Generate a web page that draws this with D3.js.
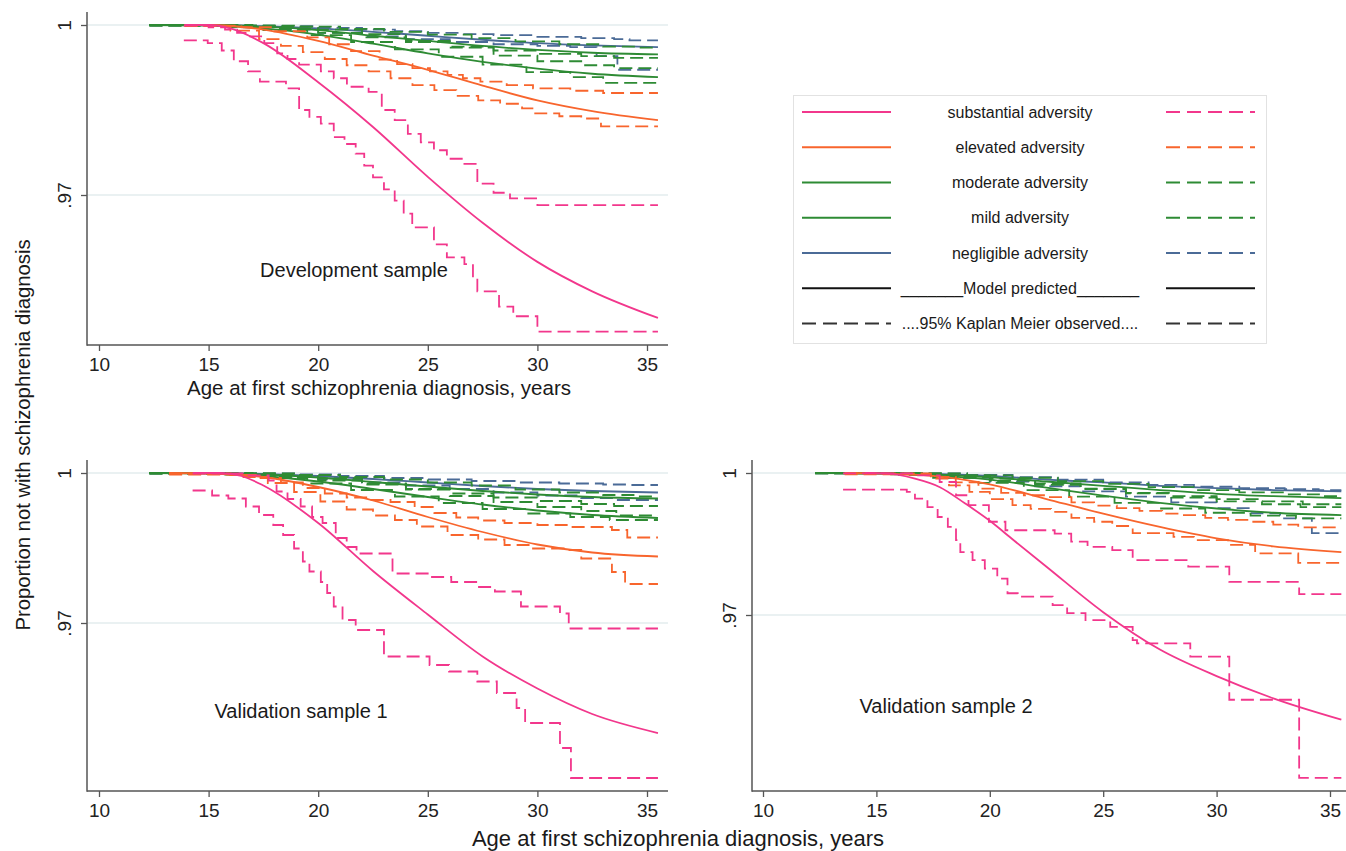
<!DOCTYPE html>
<html>
<head>
<meta charset="utf-8">
<script src="https://cdn.jsdelivr.net/npm/d3@7"></script>
<style>
html,body{margin:0;padding:0;background:#fff;}
svg{display:block;font-family:"Liberation Sans",Arial,Helvetica,sans-serif;}
</style>
</head>
<body>
<svg id="chart" width="1346" height="851"></svg>
<script>
// ---------------- DATA ----------------
const xTicks = [10, 15, 20, 25, 30, 35];
const yTicks = [0.97, 1];
const yTickLabels = [".97", "1"];
const endAge = 35.5;
const groupNames = ["substantial adversity", "elevated adversity", "moderate adversity", "mild adversity", "negligible adversity"];
const keyNames = ["_______Model predicted_______", "....95% Kaplan Meier observed...."];
const panelLabels = ["Development sample", "Validation sample 1", "Validation sample 2"];
const xTitle = "Age at first schizophrenia diagnosis, years";
const yTitle = "Proportion not with schizophrenia diagnosis";

// Development sample: model predicted curves [age, proportion]
const devSubModel = [[13.9,1],[15,1],[16,0.9994],[17.5,0.9968],[20,0.9899],[22.5,0.9820],[25,0.9732],[27.5,0.9651],[30,0.9582],[32.5,0.9530],[35.5,0.9483]];
const devEleModel = [[13.9,1],[15,1],[17.5,0.9992],[20,0.9972],[22.5,0.9946],[25,0.9921],[27.5,0.9893],[30,0.9867],[32.5,0.9848],[35.5,0.9832]];
const devModModel = [[12.3,1],[15,0.9999],[17.5,0.9994],[20,0.9983],[22.5,0.9967],[25,0.9950],[27.5,0.9935],[30,0.9923],[32.5,0.9914],[35.5,0.9908]];
const devMildModel = [[12.3,1],[15,1],[17.5,0.9997],[20,0.9991],[22.5,0.9981],[25,0.9972],[27.5,0.9963],[30,0.9956],[32.5,0.9951],[35.5,0.9948]];
const devNegModel = [[12.3,1],[15,1],[17.5,0.9998],[20,0.9994],[22.5,0.9988],[25,0.9981],[27.5,0.9974],[30,0.9968],[32.5,0.9964],[35.5,0.9961]];
// Development sample: Kaplan-Meier 95% bounds (step points)
const devSubHi = [[13.87,0.9999],[15.0,0.9996],[15.75,0.9992],[16.3,0.9986],[16.75,0.9980],[17.54,0.9968],[18.13,0.9950],[18.6,0.9940],[19.13,0.9930],[20.12,0.9918],[20.71,0.9906],[21.31,0.9891],[22.30,0.9882],[22.90,0.9850],[23.49,0.9832],[24.09,0.9808],[24.68,0.9793],[25.28,0.9779],[25.87,0.9764],[26.67,0.9755],[27.26,0.9720],[28.0,0.9704],[28.75,0.9694],[30.0,0.9682]];
const devSubLo = [[13.87,0.9973],[14.96,0.9968],[15.6,0.9955],[16.15,0.9936],[16.8,0.9918],[17.34,0.9900],[18.53,0.9888],[19.13,0.9850],[19.6,0.9838],[20.12,0.9826],[20.71,0.9802],[21.2,0.9790],[21.71,0.9773],[22.1,0.9752],[22.50,0.9731],[23.0,0.9710],[23.49,0.9690],[23.9,0.9667],[24.29,0.9643],[25.28,0.9613],[25.87,0.9590],[26.67,0.9578],[27.06,0.9554],[27.26,0.9530],[28.25,0.9503],[28.9,0.9486],[30.0,0.9459]];
const devEleHi = [[13.9,0.9999],[16.5,0.9996],[18,0.9989],[19.5,0.9978],[20.5,0.9966],[21.5,0.9954],[22.8,0.9939],[23.6,0.9931],[24.3,0.9924],[25.1,0.9918],[25.9,0.9912],[26.6,0.9906],[27.4,0.9900],[28.6,0.9894],[29.8,0.9888],[31.5,0.9884],[33.0,0.9880]];
const devEleLo = [[13.9,0.9998],[16,0.9990],[17.3,0.9975],[18.3,0.9963],[19.3,0.9952],[20.3,0.9940],[21.3,0.9929],[22.3,0.9918],[23.3,0.9906],[24.3,0.9894],[25.3,0.9885],[26.3,0.9875],[27.3,0.9867],[28.3,0.9861],[29.3,0.9853],[29.9,0.9844],[31.0,0.9839],[32.0,0.9835],[32.9,0.9821]];
const devModHi = [[12.3,1],[16,0.9999],[18,0.9997],[20,0.9992],[22,0.9984],[24,0.9972],[26,0.9960],[28,0.9946],[30,0.9936],[32,0.9929],[33.5,0.9924]];
const devModLo = [[12.3,0.9999],[15.5,0.9997],[17.5,0.9991],[19.5,0.9982],[21.5,0.9970],[23.5,0.9957],[25.5,0.9944],[27.5,0.9930],[29.5,0.9917],[31.5,0.9908],[33,0.9898]];
const devMildHi = [[12.3,1],[17,0.9999],[19,0.9997],[21,0.9993],[23,0.9988],[25,0.9983],[27,0.9977],[29,0.9971],[31,0.9966],[33,0.9962],[34.5,0.9960]];
const devMildLo = [[12.3,0.9999],[16,0.9997],[18,0.9993],[20,0.9986],[22,0.9978],[24,0.9970],[26,0.9962],[28,0.9955],[30,0.9949],[32,0.9945],[33.5,0.9942]];
const devNegHi = [[12.3,1],[16,0.9999],[18,0.9998],[20,0.9995],[22,0.9992],[23.5,0.9989],[25,0.9986],[26.5,0.9984],[28,0.9982],[30,0.9979],[32,0.9977],[33.5,0.9975],[34.2,0.9973]];
const devNegLo = [[12.3,0.9999],[16,0.9996],[18,0.9992],[20,0.9986],[22,0.9980],[24,0.9975],[26,0.9970],[28,0.9966],[30,0.9963],[31.5,0.9961],[32.7,0.9945],[33.65,0.9921]];

// Validation sample 1
const v1SubModel = [[14.3,1],[15.5,1],[16.5,0.9994],[17.5,0.9975],[20,0.9900],[22.5,0.9804],[25,0.9717],[27.5,0.9633],[30,0.9569],[32.5,0.9518],[35.5,0.9480]];
const v1EleModel = [[13.2,1],[15,0.9999],[17.5,0.9992],[20,0.9972],[22.5,0.9945],[25,0.9912],[27.5,0.9882],[30,0.9857],[32.5,0.9841],[35.5,0.9833]];
const v1ModModel = [[12.3,1],[15,0.9999],[17.5,0.9994],[20,0.9983],[22.5,0.9968],[25,0.9952],[27.5,0.9937],[30,0.9925],[32.5,0.9916],[35.5,0.9910]];
const v1MildModel = [[12.3,1],[15,1],[17.5,0.9997],[20,0.9991],[22.5,0.9982],[25,0.9973],[27.5,0.9964],[30,0.9957],[32.5,0.9952],[35.5,0.9949]];
const v1NegModel = [[12.3,1],[15,1],[17.5,0.9998],[20,0.9994],[22.5,0.9988],[25,0.9981],[27.5,0.9974],[30,0.9968],[32.5,0.9964],[35.5,0.9961]];
const v1SubHi = [[14.27,0.9999],[16.55,0.9995],[17.74,0.9985],[18.1,0.9963],[18.6,0.9948],[19.2,0.9933],[19.72,0.9912],[20.2,0.9900],[20.8,0.9870],[21.3,0.9852],[21.75,0.9839],[23.39,0.9799],[25.08,0.9792],[26.07,0.9782],[27.26,0.9772],[28.06,0.9763],[29.25,0.9733],[31.03,0.9719],[31.43,0.9689]];
const v1SubLo = [[14.27,0.9965],[15.16,0.9955],[15.9,0.9949],[16.7,0.9933],[17.3,0.9916],[17.95,0.9896],[18.4,0.9876],[18.9,0.9849],[19.3,0.9823],[19.6,0.9803],[20.12,0.9782],[20.41,0.9760],[20.71,0.9733],[21.11,0.9706],[21.71,0.9686],[23.0,0.9633],[25.08,0.9616],[25.97,0.9603],[27.26,0.9583],[28.15,0.9560],[29.05,0.9530],[29.44,0.9500],[31.03,0.9450],[31.53,0.9390]];
const v1EleHi = [[13.2,0.9999],[16,0.9996],[17.3,0.9990],[18.3,0.9981],[19.3,0.9970],[20.3,0.9959],[21.3,0.9951],[22.3,0.9946],[23.3,0.9942],[24.4,0.9932],[25.3,0.9920],[26.3,0.9911],[27.3,0.9905],[28.5,0.9900],[30,0.9896],[31.5,0.9892],[33.4,0.9886],[34.1,0.9871]];
const v1EleLo = [[13.2,0.9997],[16.5,0.9992],[17.7,0.9980],[18.9,0.9962],[20.1,0.9943],[21.3,0.9927],[22.5,0.9915],[23.5,0.9906],[24.5,0.9893],[25.9,0.9876],[27.3,0.9867],[28.5,0.9856],[29.6,0.9849],[31.2,0.9846],[32.0,0.9829],[33.4,0.9802],[34.0,0.9778]];
const v1ModHi = [[12.3,1],[16,0.9999],[18,0.9996],[20,0.9989],[22,0.9979],[24,0.9967],[26,0.9954],[28,0.9942],[30,0.9932],[32,0.9924],[33.6,0.9915]];
const v1ModLo = [[12.3,0.9999],[15.5,0.9997],[17.5,0.9990],[19.5,0.9979],[21.5,0.9966],[23.5,0.9953],[25.5,0.9940],[27.5,0.9928],[29.5,0.9919],[31.5,0.9912],[33.3,0.9906]];
const v1MildHi = [[12.3,1],[17,0.9999],[19,0.9996],[21,0.9992],[23,0.9987],[25,0.9981],[27,0.9975],[29,0.9967],[31,0.9961],[33,0.9956],[34.5,0.9953]];
const v1MildLo = [[12.3,0.9999],[16,0.9997],[18,0.9992],[20,0.9985],[22,0.9977],[24,0.9968],[26,0.9959],[28,0.9951],[30,0.9944],[32,0.9938],[33.5,0.9934]];
const v1NegHi = [[12.3,1],[17,0.9999],[19,0.9997],[21,0.9994],[23,0.9990],[25,0.9987],[27,0.9984],[29,0.9981],[31,0.9979],[33,0.9977],[34.2,0.9976]];
const v1NegLo = [[12.3,0.9999],[16,0.9997],[18,0.9993],[20,0.9987],[22,0.9981],[24,0.9975],[26,0.9968],[28,0.9961],[30,0.9955],[32,0.9950],[33.5,0.9946]];

// Validation sample 2
const v2SubModel = [[14.5,1],[15.4,0.9999],[16.7,0.9988],[17.8,0.9970],[18.9,0.9936],[20,0.9899],[21,0.9860],[22.5,0.9802],[25,0.9706],[27.5,0.9627],[30,0.9571],[32.5,0.9524],[35.5,0.9479]];
const v2EleModel = [[13.6,1],[15,0.9999],[17.5,0.9994],[20,0.9976],[22.5,0.9945],[25,0.9914],[27.5,0.9886],[30,0.9862],[32.5,0.9845],[35.5,0.9833]];
const v2ModModel = [[12.3,1],[15,0.9999],[17.5,0.9995],[20,0.9986],[22.5,0.9969],[25,0.9952],[27.5,0.9937],[30,0.9925],[32.5,0.9916],[35.5,0.9911]];
const v2MildModel = [[12.3,1],[15,1],[17.5,0.9997],[20,0.9991],[22.5,0.9982],[25,0.9973],[27.5,0.9964],[30,0.9956],[32.5,0.9951],[35.5,0.9947]];
const v2NegModel = [[12.3,1],[15,1],[17.5,0.9998],[20,0.9994],[22.5,0.9986],[25,0.9980],[27.5,0.9973],[30,0.9968],[32.5,0.9964],[35.5,0.9961]];
const v2SubHi = [[13.53,0.9999],[16.70,0.9995],[17.79,0.9981],[18.51,0.9953],[19.06,0.9932],[19.96,0.9897],[20.69,0.9879],[22.86,0.9872],[23.59,0.9855],[24.31,0.9844],[25.40,0.9837],[26.30,0.9816],[28.75,0.9802],[30.56,0.9770],[33.64,0.9744]];
const v2SubLo = [[13.53,0.9965],[16.34,0.9960],[16.70,0.9946],[17.25,0.9928],[17.70,0.9907],[18.15,0.9886],[18.51,0.9858],[18.70,0.9833],[19.24,0.9816],[19.78,0.9798],[20.33,0.9777],[20.78,0.9746],[21.23,0.9739],[22.77,0.9721],[23.41,0.9704],[24.22,0.9689],[25.31,0.9675],[26.30,0.9647],[26.49,0.9640],[28.84,0.9612],[30.56,0.9521],[33.64,0.9356]];
const v2EleHi = [[13.6,0.9999],[17.4,0.9992],[18.5,0.9980],[19.5,0.9967],[20.5,0.9958],[21.5,0.9953],[22.6,0.9949],[23.6,0.9938],[24.6,0.9931],[25.6,0.9926],[26.6,0.9920],[27.6,0.9914],[28.5,0.9911],[29.5,0.9905],[30.5,0.9901],[31.4,0.9897],[32.5,0.9891],[33.6,0.9885]];
const v2EleLo = [[13.6,0.9997],[17.4,0.9988],[18.2,0.9974],[19.1,0.9960],[20,0.9945],[21,0.9932],[21.8,0.9924],[22.7,0.9918],[23.6,0.9905],[24.6,0.9897],[25.4,0.9888],[26.3,0.9873],[28.1,0.9865],[29.0,0.9858],[30.5,0.9848],[31.7,0.9830],[33.6,0.9810]];
const v2ModHi = [[12.3,1],[16,0.9999],[18,0.9995],[20,0.9988],[22,0.9978],[24,0.9967],[26,0.9957],[28,0.9948],[30,0.9940],[32,0.9934],[33.7,0.9928]];
const v2ModLo = [[12.3,0.9999],[15.5,0.9997],[17.5,0.9990],[19.5,0.9979],[21.5,0.9964],[23.5,0.9950],[25.5,0.9937],[27.5,0.9925],[29.5,0.9916],[31.5,0.9910],[33.5,0.9904]];
const v2MildHi = [[12.3,1],[17,0.9999],[19,0.9995],[21,0.9990],[23,0.9983],[25,0.9977],[27,0.9970],[29,0.9964],[31,0.9959],[33,0.9955],[34.6,0.9951]];
const v2MildLo = [[12.3,0.9999],[16,0.9997],[18,0.9992],[20,0.9984],[22,0.9975],[24,0.9966],[26,0.9958],[28,0.9951],[30,0.9945],[32,0.9940],[33.8,0.9934]];
const v2NegHi = [[12.3,1],[17,0.9999],[19,0.9996],[21,0.9991],[23,0.9986],[25,0.9980],[27,0.9975],[29,0.9971],[31,0.9968],[33,0.9966],[34.5,0.9964]];
const v2NegLo = [[12.3,0.9999],[16,0.9996],[18,0.9990],[20,0.9982],[22,0.9972],[24,0.9961],[26,0.9950],[28,0.9938],[30,0.9926],[31.5,0.9915],[32.8,0.9904],[34.2,0.9873]];

// ---------------- STYLE / LAYOUT ----------------
const groupColors = ["#f2378c", "#f8652d", "#2e8b34", "#2e8b34", "#4b6b97"];
const dashPattern = "13,6";
const axisColor = "#555";
const gridColor = "#e3ecee";

const panels = [
  { label: panelLabels[0], xr: [99, 647], yr: [195, 25], left: 87, top: 12, right: 668, bottom: 345,
    labelPos: [354, 277],
    model: [devSubModel, devEleModel, devModModel, devMildModel, devNegModel],
    hi: [devSubHi, devEleHi, devModHi, devMildHi, devNegHi],
    lo: [devSubLo, devEleLo, devModLo, devMildLo, devNegLo] },
  { label: panelLabels[1], xr: [99, 647], yr: [623, 473], left: 87, top: 460, right: 668, bottom: 791,
    labelPos: [301, 718],
    model: [v1SubModel, v1EleModel, v1ModModel, v1MildModel, v1NegModel],
    hi: [v1SubHi, v1EleHi, v1ModHi, v1MildHi, v1NegHi],
    lo: [v1SubLo, v1EleLo, v1ModLo, v1MildLo, v1NegLo] },
  { label: panelLabels[2], xr: [763, 1330], yr: [615, 473], left: 752, top: 460, right: 1346, bottom: 791,
    labelPos: [946, 713],
    model: [v2SubModel, v2EleModel, v2ModModel, v2MildModel, v2NegModel],
    hi: [v2SubHi, v2EleHi, v2ModHi, v2MildHi, v2NegHi],
    lo: [v2SubLo, v2EleLo, v2ModLo, v2MildLo, v2NegLo] }
];

const svg = d3.select("#chart");
svg.append("rect").attr("width", 1346).attr("height", 851).attr("fill", "#fff");
const defs = svg.append("defs");

panels.forEach((p, pi) => {
  const x = d3.scaleLinear().domain([xTicks[0], xTicks[xTicks.length - 1]]).range(p.xr);
  const y = d3.scaleLinear().domain([yTicks[0], yTicks[1]]).range(p.yr);
  const g = svg.append("g");

  // gridlines
  g.selectAll("line.grid").data(yTicks).join("line")
    .attr("x1", p.left + 1).attr("x2", p.right)
    .attr("y1", d => y(d)).attr("y2", d => y(d))
    .attr("stroke", gridColor).attr("stroke-width", 1.6);

  // clip
  defs.append("clipPath").attr("id", "clip" + pi).append("rect")
    .attr("x", p.left + 1).attr("y", p.top).attr("width", p.right - p.left - 1).attr("height", p.bottom - p.top - 1);
  const plot = g.append("g").attr("clip-path", `url(#clip${pi})`);

  const modelLine = d3.line().x(d => x(d[0])).y(d => y(d[1])).curve(d3.curveMonotoneX);
  const stepLine = d3.line().x(d => x(d[0])).y(d => y(d[1])).curve(d3.curveStepAfter);
  const extend = arr => arr.concat([[endAge, arr[arr.length - 1][1]]]);

  for (let k = groupNames.length - 1; k >= 0; k--) {
    [p.hi[k], p.lo[k]].forEach(arr => {
      plot.append("path").attr("d", stepLine(extend(arr)))
        .attr("fill", "none").attr("stroke", groupColors[k])
        .attr("stroke-width", 1.8).attr("stroke-dasharray", dashPattern);
    });
    plot.append("path").attr("d", modelLine(p.model[k]))
      .attr("fill", "none").attr("stroke", groupColors[k]).attr("stroke-width", 1.8);
  }

  // axes
  const yAxis = d3.axisLeft(y).tickValues(yTicks).tickFormat((d, i) => yTickLabels[i]).tickSize(6).tickSizeOuter(0);
  const ya = g.append("g").attr("transform", `translate(${p.left},0)`).call(yAxis);
  ya.select(".domain").remove();
  ya.selectAll(".tick line").attr("stroke", axisColor).attr("stroke-width", 1.3);
  ya.selectAll(".tick text").attr("x", 0).attr("dy", 0).attr("text-anchor", "middle")
    .attr("transform", "translate(-16,0) rotate(-90)")
    .attr("font-size", 19).attr("fill", "#222").attr("font-family", null);

  const xAxis = d3.axisBottom(x).tickValues(xTicks).tickSize(6).tickSizeOuter(0);
  const xa = g.append("g").attr("transform", `translate(0,${p.bottom})`).call(xAxis);
  xa.select(".domain").remove();
  xa.selectAll(".tick line").attr("stroke", axisColor).attr("stroke-width", 1.3);
  xa.selectAll(".tick text").attr("y", 12.5).attr("font-size", 19).attr("fill", "#222").attr("font-family", null);

  g.append("line").attr("x1", p.left).attr("x2", p.left).attr("y1", p.top).attr("y2", p.bottom + 0.7)
    .attr("stroke", axisColor).attr("stroke-width", 1.5);
  g.append("line").attr("x1", p.left).attr("x2", p.right).attr("y1", p.bottom).attr("y2", p.bottom)
    .attr("stroke", axisColor).attr("stroke-width", 1.5);

  g.append("text").attr("x", p.labelPos[0]).attr("y", p.labelPos[1]).attr("text-anchor", "middle")
    .attr("font-size", 20).attr("fill", "#1a1a1a").text(p.label);
});

// axis titles
svg.append("text").attr("x", 379).attr("y", 395).attr("text-anchor", "middle")
  .attr("font-size", 20.5).attr("fill", "#1a1a1a").text(xTitle);
svg.append("text").attr("x", 678).attr("y", 846).attr("text-anchor", "middle")
  .attr("font-size", 22).attr("fill", "#1a1a1a").text(xTitle);
svg.append("text").attr("transform", "translate(30,435) rotate(-90)").attr("text-anchor", "middle")
  .attr("font-size", 20.3).attr("fill", "#1a1a1a").text(yTitle);

// legend
const lg = svg.append("g");
lg.append("rect").attr("x", 793.5).attr("y", 95.5).attr("width", 473).attr("height", 248)
  .attr("fill", "#fff").attr("stroke", "#e2e2e2").attr("stroke-width", 1);
const legendRows = groupNames.map((n, i) => ({ text: n, color: groupColors[i], left: "solid", right: "dash" }))
  .concat([{ text: keyNames[0], color: "#111", left: "solid", right: "solid" },
           { text: keyNames[1], color: "#333", left: "dash", right: "dash" }]);
const rowY = d3.scalePoint().domain(d3.range(legendRows.length)).range([112, 323.5]);
legendRows.forEach((r, i) => {
  const yy = rowY(i);
  lg.append("line").attr("x1", 802).attr("x2", 891).attr("y1", yy).attr("y2", yy)
    .attr("stroke", r.color).attr("stroke-width", 2)
    .attr("stroke-dasharray", r.left === "dash" ? "14,7" : null);
  lg.append("line").attr("x1", 1166).attr("x2", 1255).attr("y1", yy).attr("y2", yy)
    .attr("stroke", r.color).attr("stroke-width", 2)
    .attr("stroke-dasharray", r.right === "dash" ? "14,7" : null);
  lg.append("text").attr("x", 1020).attr("y", yy + 5.5).attr("text-anchor", "middle")
    .attr("font-size", 16).attr("fill", "#1a1a1a").text(r.text);
});
</script>
</body>
</html>
